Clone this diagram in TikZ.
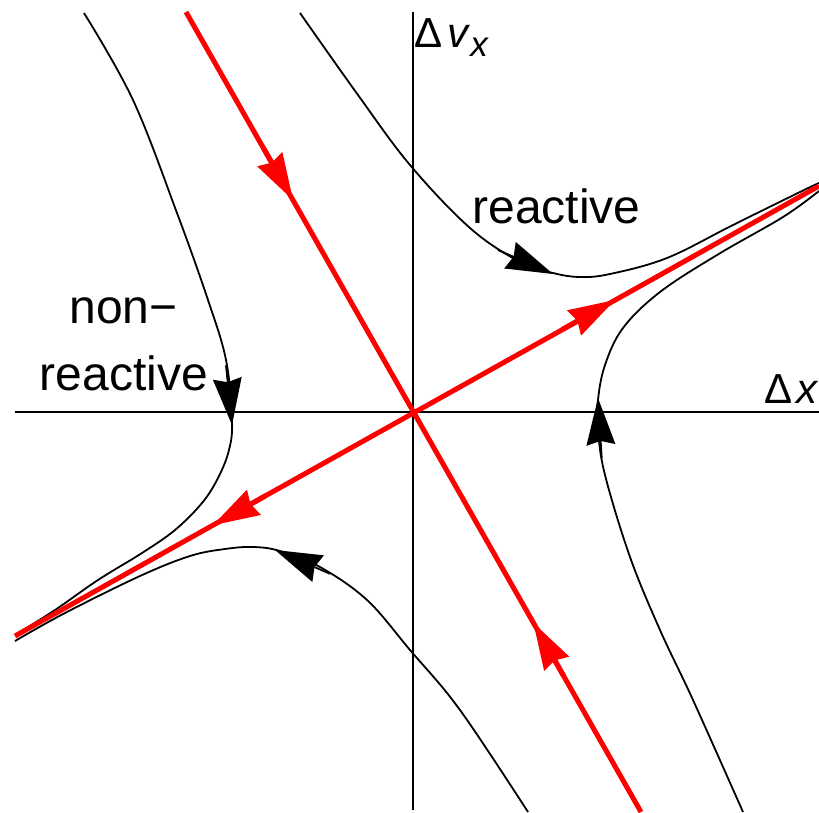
\documentclass[tikz,border=0pt]{standalone}
\usepackage{fontspec}
\setmainfont{Liberation Sans}
\usetikzlibrary{arrows.meta}
\begin{document}
\begin{tikzpicture}[x=1pt,y=-1pt,
  traj/.style={black, line width=1.8pt, line join=round},
  sep/.style={red, line width=5pt},
  axisline/.style={black, line width=1.8pt},
  bhead/.style={-{Stealth[length=47pt,width=29pt,inset=4pt,line width=0pt]}, line width=1.8pt, black},
  rhead/.style={-{Stealth[length=47pt,width=29pt,inset=4pt,line width=0pt]}, line width=5pt, red},
  lbl/.style={font=\fontsize{48}{56}\selectfont, inner sep=0pt},
  axlbl/.style={font=\fontsize{42}{50}\selectfont, inner sep=0pt, anchor=base west}]
\useasboundingbox (0,0) rectangle (819,813);
% axes
\coordinate (xl) at (15,412);
\coordinate (xr) at (819,412);
\coordinate (yt) at (413,12);
\coordinate (yb) at (413,810);
\draw[axisline] (xl) -- (xr);
\draw[axisline] (yt) -- (yb);
% trajectories
\draw[traj] plot[smooth, tension=0.6] coordinates {(84,13) (133,100) (177,213) (208,300) (226,360) (232,420) (229,450) (218,478) (202,503) (175,530) (142,553) (98,580) (55,610) (15,635)};
\draw[traj] plot[smooth, tension=0.6] coordinates {(300,13) (358,95) (410,165) (470,228) (520,262) (553,273) (580,277) (610,274) (667,258) (733,225) (800,192) (819,183)};
\draw[traj] plot[smooth, tension=0.6] coordinates {(819,191) (783,217) (717,255) (660,292) (623,328) (605,365) (598,400) (598,430) (605,475) (630,557) (660,630) (693,700) (743,812)};
\draw[traj] plot[smooth, tension=0.6] coordinates {(528,812) (460,710) (410,650) (367,600) (320,567) (280,551) (253,547) (225,549) (190,556) (140,576) (65,613) (15,641)};
% separatrices
\coordinate (s1) at (186,12);
\coordinate (s2) at (641,812);
\coordinate (u1) at (15,636);
\coordinate (u2) at (819,186);
\draw[sep] (s1) -- (s2);
\draw[sep] (u1) -- (u2);
% red arrowheads
\coordinate (ra1b) at (263.3,147.8); \coordinate (ra1t) at (293,200);
\coordinate (ra2b) at (563.2,675.2); \coordinate (ra2t) at (533.5,623);
\coordinate (ra3b) at (562.6,329.3); \coordinate (ra3t) at (615,300);
\coordinate (ra4b) at (265.4,495.9); \coordinate (ra4t) at (213,525.2);
\draw[rhead] (ra1b) -- (ra1t);
\draw[rhead] (ra2b) -- (ra2t);
\draw[rhead] (ra3b) -- (ra3t);
\draw[rhead] (ra4b) -- (ra4t);
% black arrowheads
\coordinate (ba1b) at (226,365.3); \coordinate (ba1t) at (232,425);
\coordinate (ba2b) at (498,250); \coordinate (ba2t) at (553,274);
\coordinate (ba3b) at (601.7,457.9); \coordinate (ba3t) at (598,398);
\coordinate (ba4b) at (330,573.8); \coordinate (ba4t) at (275,550);
\draw[bhead] (ba1b) -- (ba1t);
\draw[bhead] (ba2b) -- (ba2t);
\draw[bhead] (ba3b) -- (ba3t);
\draw[bhead] (ba4b) -- (ba4t);
% labels
\node[axlbl] (ylab) at (414,48) {Δ\kern5pt\textit{v}\raisebox{-9pt}{\fontsize{35}{40}\selectfont\textit{x}}};
\node[axlbl] (xlab) at (764,403) {Δ\kern4pt\textit{x}};
\node[lbl, anchor=base] (rtop) at (556.5,224) {reactive};
\node[lbl, anchor=base] (nonr1) at (123.5,323) {non−};
\node[lbl, anchor=base] (nonr2) at (124,390) {reactive};
\end{tikzpicture}
\end{document}
